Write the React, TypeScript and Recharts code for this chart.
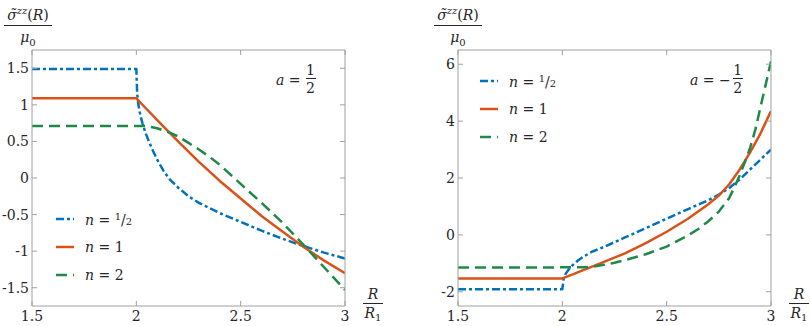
import React from 'react';
import { LineChart, Line, XAxis, YAxis, Legend } from 'recharts';

// tick labels
const xTicks = [1.5, 2, 2.5, 3];
const leftYTicks = [-1.5, -1, -0.5, 0, 0.5, 1, 1.5];
const rightYTicks = [-2, 0, 2, 4, 6];

// left panel, a = 1/2
const rLeftHalf = [1.5, 2, 2.004, 2.01, 2.02, 2.03, 2.045, 2.06, 2.08, 2.1, 2.13, 2.16, 2.2, 2.25, 2.3, 2.4, 2.5, 2.6, 2.7, 2.8, 2.9, 3];
const sLeftHalf = [1.49, 1.49, 1.15, 1.0, 0.85, 0.74, 0.61, 0.5, 0.37, 0.25, 0.1, -0.02, -0.13, -0.25, -0.34, -0.48, -0.6, -0.72, -0.83, -0.93, -1.02, -1.1];
const rLeftOne = [1.5, 2, 2.05, 2.1, 2.2, 2.3, 2.4, 2.5, 2.6, 2.7, 2.8, 2.9, 3];
const sLeftOne = [1.09, 1.09, 0.94, 0.79, 0.5, 0.22, -0.04, -0.28, -0.52, -0.73, -0.94, -1.13, -1.3];
const rLeftTwo = [1.5, 2.05, 2.1, 2.15, 2.2, 2.25, 2.3, 2.35, 2.4, 2.5, 2.6, 2.7, 2.8, 2.9, 3];
const sLeftTwo = [0.71, 0.71, 0.68, 0.63, 0.57, 0.48, 0.39, 0.29, 0.18, -0.08, -0.34, -0.61, -0.91, -1.22, -1.53];

// right panel, a = -1/2
const rRightHalf = [1.5, 2, 2.006, 2.015, 2.03, 2.05, 2.075, 2.1, 2.14, 2.2, 2.3, 2.4, 2.5, 2.6, 2.7, 2.75, 2.8, 2.85, 2.9, 2.95, 3];
const sRightHalf = [-1.91, -1.91, -1.55, -1.38, -1.22, -1.06, -0.9, -0.77, -0.6, -0.42, -0.09, 0.24, 0.57, 0.9, 1.22, 1.42, 1.65, 1.95, 2.3, 2.65, 3.0];
const rRightOne = [1.5, 2, 2.05, 2.1, 2.2, 2.3, 2.4, 2.5, 2.6, 2.7, 2.75, 2.8, 2.85, 2.9, 2.95, 3];
const sRightOne = [-1.53, -1.53, -1.39, -1.24, -0.95, -0.65, -0.29, 0.11, 0.56, 1.08, 1.38, 1.78, 2.3, 2.9, 3.57, 4.35];
const rRightTwo = [1.5, 2.1, 2.15, 2.2, 2.25, 2.3, 2.4, 2.5, 2.6, 2.65, 2.7, 2.75, 2.8, 2.825, 2.85, 2.875, 2.9, 2.925, 2.95, 2.975, 3];
const sRightTwo = [-1.15, -1.14, -1.11, -1.05, -0.98, -0.89, -0.68, -0.41, -0.03, 0.2, 0.48, 0.82, 1.3, 1.68, 2.1, 2.56, 3.06, 3.7, 4.5, 5.3, 6.1];

const zip = (r: number[], s: number[]) => r.map((v, i) => ({ r: v, s: s[i] }));

const FONT = "'DejaVu Serif', serif";
const AXIS = '#a0a0a0';
const TEXT = '#262626';

const styles: Record<string, { color: string; dash?: string }> = {
  half: { color: '#0072BD', dash: '8 3 3 3' },
  one: { color: '#D95319' },
  two: { color: '#1f8a48', dash: '11 6' },
};

const Half = () => (
  <span>
    <sup style={{ fontSize: 10, verticalAlign: 5 }}>1</sup>/<span style={{ fontSize: 10 }}>2</span>
  </span>
);

const labels: Record<string, React.ReactNode> = {
  half: <><i>n</i> = <Half /></>,
  one: <><i>n</i> = 1</>,
  two: <><i>n</i> = 2</>,
};

function LegendBox({ payload }: any) {
  return (
    <div style={{ fontFamily: FONT, fontSize: 14, color: TEXT }}>
      {(payload || []).map((p: any) => {
        const st = styles[p.value];
        return (
          <div key={p.value} style={{ display: 'flex', alignItems: 'center', height: 28, whiteSpace: 'nowrap' }}>
            <svg width={18} height={6}>
              <line x1={0} y1={3} x2={18} y2={3} stroke={st.color} strokeWidth={2.5} strokeDasharray={st.dash} />
            </svg>
            <span style={{ marginLeft: 11 }}>{labels[p.value]}</span>
          </div>
        );
      })}
    </div>
  );
}

const tickStyle = { fill: TEXT, fontSize: 14, fontFamily: FONT };

function Panel({
  width, plotLeft, plotRight, yDomain, yTicks, series, legendPos,
}: {
  width: number; plotLeft: number; plotRight: number; yDomain: [number, number]; yTicks: number[];
  series: { name: string; data: { r: number; s: number }[] }[]; legendPos: { left: number; top: number };
}) {
  return (
    <LineChart width={width} height={326} margin={{ top: 49, right: width - plotRight - 5, left: 0, bottom: 0 }}>
      <XAxis xAxisId="b" dataKey="r" type="number" domain={[1.5, 3]} ticks={xTicks} allowDataOverflow
        height={20} stroke={AXIS} tickSize={-5} tickMargin={10} tick={tickStyle} interval={0} />
      <XAxis xAxisId="t" orientation="top" dataKey="r" type="number" domain={[1.5, 3]} ticks={xTicks} allowDataOverflow
        height={1} stroke={AXIS} tickSize={-5} tickFormatter={() => ''} interval={0} />
      <YAxis yAxisId="l" type="number" domain={yDomain} ticks={yTicks} allowDataOverflow width={plotLeft}
        stroke={AXIS} tickSize={-5} tickMargin={8} tick={tickStyle} interval={0} />
      <YAxis yAxisId="r" orientation="right" type="number" domain={yDomain} ticks={yTicks} allowDataOverflow width={5}
        stroke={AXIS} tickSize={-5} tickFormatter={() => ''} interval={0} />
      <Legend layout="vertical" align="center" verticalAlign="middle" content={<LegendBox />}
        wrapperStyle={{ left: legendPos.left, top: legendPos.top, width: 100 }} />
      {series.map((sr) => (
        <Line key={sr.name} name={sr.name} xAxisId="b" yAxisId="l" data={sr.data} dataKey="s" type="linear"
          stroke={styles[sr.name].color} strokeWidth={2.5} strokeDasharray={styles[sr.name].dash}
          strokeLinejoin="round" dot={false} activeDot={false} isAnimationActive={false} />
      ))}
    </LineChart>
  );
}

const abs = (left: number, top: number): React.CSSProperties => ({ position: 'absolute', left, top });

function YLabel({ left }: { left: number }) {
  return (
    <div style={{ ...abs(left, 0), fontFamily: FONT, fontSize: 14, color: TEXT, display: 'flex', flexDirection: 'column', alignItems: 'center', width: 48 }}>
      <div style={{ lineHeight: '20px', whiteSpace: 'nowrap', paddingTop: 1 }}>
        <i>σ̃</i><sup style={{ fontSize: 10, fontStyle: 'italic' }}>zz</sup>(<i>R</i>)
      </div>
      <div style={{ width: 48, borderTop: `1px solid ${TEXT}` }} />
      <div style={{ lineHeight: '22px' }}>
        <i>μ</i><sub style={{ fontSize: 10 }}>0</sub>
      </div>
    </div>
  );
}

function XLabel({ left }: { left: number }) {
  return (
    <div style={{ ...abs(left, 285), fontFamily: FONT, fontSize: 14, color: TEXT, display: 'flex', flexDirection: 'column', alignItems: 'center', width: 20 }}>
      <div style={{ lineHeight: '18px' }}><i>R</i></div>
      <div style={{ width: 20, borderTop: `1px solid ${TEXT}` }} />
      <div style={{ lineHeight: '18px', whiteSpace: 'nowrap' }}><i>R</i><sub style={{ fontSize: 10, verticalAlign: -3 }}>1</sub></div>
    </div>
  );
}

function ALabel({ left, neg }: { left: number; neg?: boolean }) {
  return (
    <div style={{ ...abs(left, 62), fontFamily: FONT, fontSize: 14, color: TEXT, display: 'flex', alignItems: 'center', whiteSpace: 'nowrap' }}>
      <span><i>a</i> = {neg ? '−' : ''}</span>
      <span style={{ display: 'flex', flexDirection: 'column', alignItems: 'center', marginLeft: neg ? 2 : 5 }}>
        <span style={{ lineHeight: '16px' }}>1</span>
        <span style={{ width: 10, borderTop: `1px solid ${TEXT}` }} />
        <span style={{ lineHeight: '18px' }}>2</span>
      </span>
    </div>
  );
}

export default function App() {
  return (
    <div style={{ position: 'absolute', left: 0, top: 0, width: 810, height: 326, background: '#fff', overflow: 'hidden' }}>
      <div style={abs(0, 0)}>
        <Panel width={400} plotLeft={32} plotRight={345} yDomain={[-1.75, 1.75]} yTicks={leftYTicks}
          legendPos={{ left: 56, top: 205 }}
          series={[
            { name: 'half', data: zip(rLeftHalf, sLeftHalf) },
            { name: 'one', data: zip(rLeftOne, sLeftOne) },
            { name: 'two', data: zip(rLeftTwo, sLeftTwo) },
          ]} />
      </div>
      <div style={abs(420, 0)}>
        <Panel width={390} plotLeft={38} plotRight={351} yDomain={[-2.5, 6.5]} yTicks={rightYTicks}
          legendPos={{ left: 60, top: 67 }}
          series={[
            { name: 'half', data: zip(rRightHalf, sRightHalf) },
            { name: 'one', data: zip(rRightOne, sRightOne) },
            { name: 'two', data: zip(rRightTwo, sRightTwo) },
          ]} />
      </div>
      <YLabel left={4} />
      <YLabel left={434} />
      <XLabel left={363} />
      <XLabel left={789} />
      <ALabel left={276} />
      <ALabel left={690} neg />
    </div>
  );
}
